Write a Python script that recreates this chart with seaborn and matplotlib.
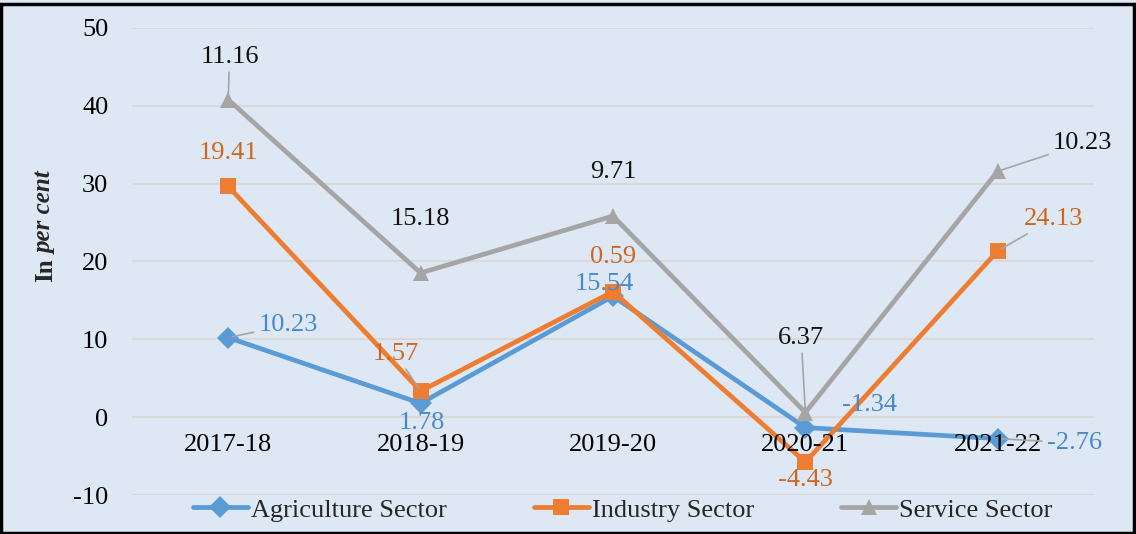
import numpy as np
import pandas as pd
import matplotlib
matplotlib.use("Agg")
import matplotlib.pyplot as plt
import seaborn as sns
from matplotlib.patches import Rectangle

years = ["2017-18", "2018-19", "2019-20", "2020-21", "2021-22"]
# growth rates shown as data labels (chart is a stacked line chart)
agriculture = [10.23, 1.78, 15.54, -1.34, -2.76]
industry = [19.41, 1.57, 0.59, -4.43, 24.13]
service = [11.16, 15.18, 9.71, 6.37, 10.23]

sectors = ["Agriculture Sector", "Industry Sector", "Service Sector"]
colors = ["#5B9BD5", "#ED7D31", "#A5A5A5"]
label_colors = ["#4A88C8", "#D0661E", "#111111"]
markers = ["D", "s", "^"]
bg = "#DEE8F4"

# stacked: each line sits on top of the previous one
stacked = np.cumsum(np.array([agriculture, industry, service]), axis=0)
df = pd.DataFrame({
    "Year": years * 3,
    "Sector": np.repeat(sectors, len(years)),
    "Value": stacked.ravel(),
    "Label": agriculture + industry + service,
})

sns.set_style("white")
plt.rcParams["font.family"] = ["Liberation Serif", "DejaVu Serif"]
plt.rcParams["axes.unicode_minus"] = False

fig = plt.figure(figsize=(11.36, 5.34), dpi=100, facecolor=bg)
ax = fig.add_axes([0.1162, 0.073, 0.8468, 0.8746], facecolor=bg)

# horizontal gridlines kept under everything so tick labels stay on top
for t in range(-10, 51, 10):
    ax.axhline(t, color="#D9D9D9", lw=1.5, zorder=0)

sns.lineplot(data=df, x="Year", y="Value", hue="Sector", style="Sector",
             palette=colors, markers=markers, dashes=False, sort=False,
             linewidth=3.4, markersize=11.5, markeredgewidth=0, ax=ax)

# label offsets in points (dx, dy) and whether a leader line is drawn
offsets = {
    "Agriculture Sector": [(43, 9, True), (1, -14, False), (-6, 9, False), (46, 16, False), (55, -3, True)],
    "Industry Sector": [(0, 24, False), (-18, 27, True), (0, 25, False), (0, -13, False), (40, 23, True)],
    "Service Sector": [(1, 31, True), (0, 39, False), (0, 32, False), (-3, 54, True), (61, 20, True)],
}
for i, s in enumerate(sectors):
    sub = df[df["Sector"] == s].reset_index(drop=True)
    for j, row in sub.iterrows():
        dx, dy, lead = offsets[s][j]
        kw = {}
        if lead:
            kw["arrowprops"] = dict(arrowstyle="-", color="#A5A5A5", lw=1.2,
                                    shrinkA=1, shrinkB=3)
        ax.annotate(f"{row['Label']:.2f}", (j, row["Value"]), xytext=(dx, dy),
                    textcoords="offset points", ha="center", va="center",
                    fontsize=19, color=label_colors[i], **kw)

ax.set_xlim(-0.5, 4.5)
ax.set_ylim(-10, 50)
ax.set_yticks(range(-10, 51, 10))
ax.grid(False)
ax.set_axisbelow(False)
for sp in ax.spines.values():
    sp.set_visible(False)
ax.spines["bottom"].set_position(("data", 0))
ax.tick_params(axis="both", length=0, labelsize=19, colors="black")
ax.tick_params(axis="y", pad=17)
ax.tick_params(axis="x", pad=12)
ax.set_xlabel("")
ax.set_ylabel("")

fig.text(0.04, 0.472, "In", rotation=90, ha="center", va="bottom",
         fontsize=18, fontweight="bold")
fig.text(0.04, 0.524, "per cent", rotation=90, ha="center", va="bottom",
         fontsize=18, fontweight="bold", fontstyle="italic")

handles, labels = ax.get_legend_handles_labels()
ax.legend(handles, labels, loc="center", bbox_to_anchor=(0.548, 0.045),
          bbox_transform=fig.transFigure, ncol=3, frameon=False,
          fontsize=19, handlelength=2.1, handletextpad=0.1, columnspacing=3.3)

fig.patches.append(Rectangle((0.001, 0.002), 0.997, 0.99, transform=fig.transFigure,
                             fill=False, edgecolor="black", lw=2.5))

fig.savefig("out.png", dpi=100, facecolor=bg)
